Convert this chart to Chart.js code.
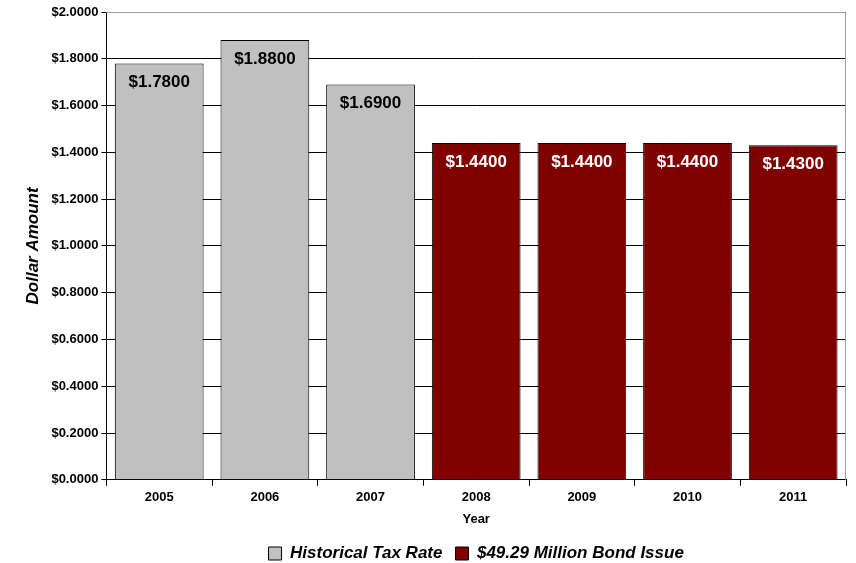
<!DOCTYPE html>
<html>
<head>
<meta charset="utf-8">
<script src="https://cdn.jsdelivr.net/npm/chart.js@4"></script>
<style>
  html, body { margin: 0; padding: 0; background: #fff; }
  #wrap { width: 856px; height: 563px; }
</style>
</head>
<body>
<div id="wrap"><canvas id="Chart" width="856" height="563"></canvas></div>
<script>
// dados do gráfico
const years = ['2005', '2006', '2007', '2008', '2009', '2010', '2011'];
const historical = [1.78, 1.88, 1.69, null, null, null, null];
const bondIssue = [null, null, null, 1.44, 1.44, 1.44, 1.43];
const yTicks = [0, 0.2, 0.4, 0.6, 0.8, 1.0, 1.2, 1.4, 1.6, 1.8, 2.0];

const money = v => '$' + v.toFixed(4);
const FONT = '"Liberation Sans", Arial, sans-serif';

// rótulos dentro das barras + moldura cinza em cima e à direita
const barLabels = {
  id: 'barLabels',
  afterDatasetsDraw(chart) {
    const ctx = chart.ctx;
    ctx.save();
    ctx.font = 'bold 17px ' + FONT;
    ctx.textAlign = 'center';
    ctx.textBaseline = 'middle';
    chart.data.datasets.forEach((ds, i) => {
      chart.getDatasetMeta(i).data.forEach((bar, j) => {
        const v = ds.data[j];
        if (v == null) return;
        ctx.fillStyle = i === 0 ? '#000' : '#fff';
        ctx.fillText(money(v), bar.x, bar.y + 19);
      });
    });
    const a = chart.chartArea;
    ctx.strokeStyle = '#a0a0a0';
    ctx.lineWidth = 1;
    ctx.beginPath();
    ctx.moveTo(a.left, a.top + 0.5);
    ctx.lineTo(a.right - 0.5, a.top + 0.5);
    ctx.lineTo(a.right - 0.5, a.bottom);
    ctx.stroke();
    ctx.restore();
  }
};

let myChart = new Chart(document.getElementById('Chart'), {
  type: 'bar',
  data: {
    labels: years,
    datasets: [
      {
        label: 'Historical Tax Rate',
        data: historical,
        backgroundColor: '#c0c0c0',
        borderColor: '#000',
        borderWidth: 1,
        borderSkipped: 'bottom'
      },
      {
        label: '$49.29 Million Bond Issue',
        data: bondIssue,
        backgroundColor: '#800000',
        borderColor: '#000',
        borderWidth: 1,
        borderSkipped: 'bottom'
      }
    ]
  },
  options: {
    responsive: false,
    animation: false,
    layout: { padding: { top: 12, right: 10, left: 23, bottom: -9 } },
    datasets: { bar: { categoryPercentage: 1, barPercentage: 0.84 } },
    scales: {
      x: {
        stacked: true,
        grid: { offset: true, drawOnChartArea: false, drawTicks: true, tickLength: 6, color: '#000' },
        border: { color: '#000', width: 1 },
        ticks: { color: '#000', font: { family: FONT, size: 13, weight: 'bold' }, padding: 4 },
        title: { display: true, text: 'Year', color: '#000', font: { family: FONT, size: 13, weight: 'bold' }, padding: { top: 2, bottom: 5 } }
      },
      y: {
        stacked: true,
        min: 0,
        max: 2,
        afterBuildTicks: axis => { axis.ticks = yTicks.map(v => ({ value: v })); },
        grid: { color: '#000', lineWidth: 1, tickLength: 5 },
        border: { color: '#000', width: 1 },
        ticks: {
          color: '#000',
          font: { family: FONT, size: 13, weight: 'bold' },
          padding: 3,
          callback: v => money(v)
        },
        title: {
          display: true,
          text: 'Dollar Amount',
          color: '#000',
          font: { family: FONT, size: 17, weight: 'bold', style: 'italic' },
          padding: { top: 0, bottom: 5 }
        }
      }
    },
    plugins: {
      legend: {
        position: 'bottom',
        fullSize: false,
        labels: {
          color: '#000',
          boxWidth: 13,
          boxHeight: 13,
          padding: 13,
          font: { family: FONT, size: 17, weight: 'bold', style: 'italic' }
        }
      },
      tooltip: { enabled: false }
    }
  },
  plugins: [barLabels]
});
</script>
</body>
</html>
